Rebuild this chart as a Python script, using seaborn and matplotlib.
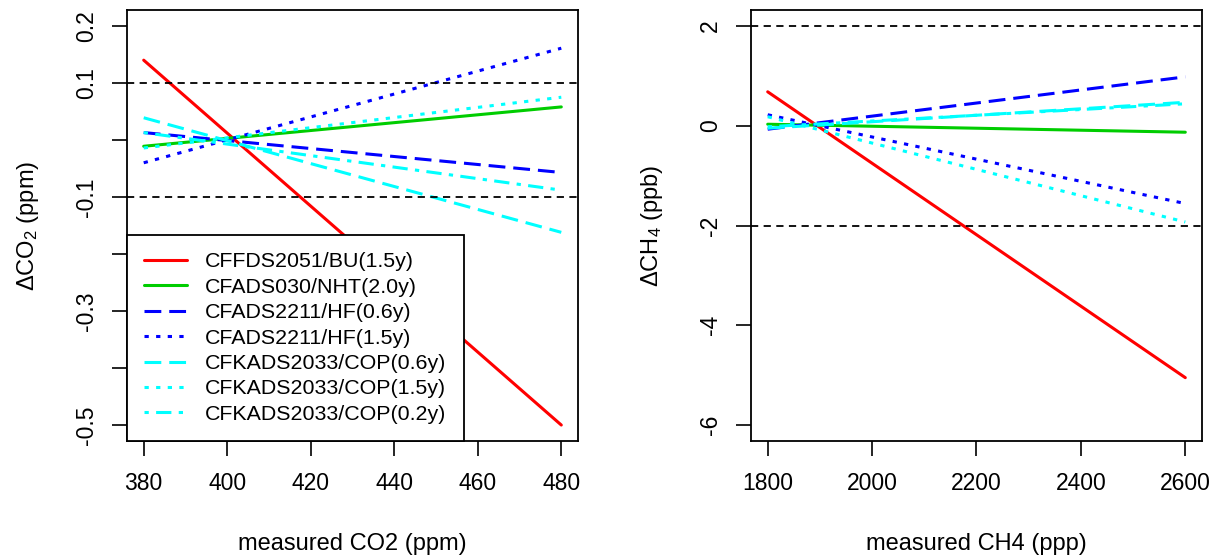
import numpy as np
import pandas as pd
import matplotlib
matplotlib.use("Agg")
import matplotlib.pyplot as plt
import seaborn as sns

# ---- data ----
labels = ["CFFDS2051/BU(1.5y)", "CFADS030/NHT(2.0y)", "CFADS2211/HF(0.6y)",
          "CFADS2211/HF(1.5y)", "CFKADS2033/COP(0.6y)", "CFKADS2033/COP(1.5y)",
          "CFKADS2033/COP(0.2y)"]
colors = ["#FF0000", "#00CD00", "#0000FF", "#0000FF", "#00FFFF", "#00FFFF", "#00FFFF"]
styles = ["solid", "solid", "dashed", "dotted", "dashed", "dotted", "dotdash"]

co2_x = [380, 480]
co2_start = [0.140, -0.011, 0.013, -0.040, 0.039, -0.014, 0.013]
co2_end = [-0.500, 0.058, -0.057, 0.161, -0.162, 0.075, -0.088]

ch4_x = [1800, 2600]
ch4_start = [0.68, 0.03, -0.07, 0.22, -0.05, 0.18, -0.02]
ch4_end = [-5.05, -0.13, 0.98, -1.56, 0.47, -1.93, 0.44]

co2_ticks = [0.2, 0.1, 0.0, -0.1, -0.2, -0.3, -0.4, -0.5]
co2_ticklabels = ["0.2", "0.1", "", "-0.1", "", "-0.3", "", "-0.5"]
co2_xticks = [380, 400, 420, 440, 460, 480]
ch4_ticks = [2, 0, -2, -4, -6]
ch4_xticks = [1800, 2000, 2200, 2400, 2600]
co2_limits = [-0.1, 0.1]
ch4_limits = [-2, 2]

dash_map = {"solid": "-", "dashed": (0, (5.5, 2.6)), "dotted": (0, (1.4, 2.4)),
            "dotdash": (0, (1.4, 2.4, 5, 2.4))}

sns.set_style("white")
plt.rcParams["font.family"] = ["Liberation Sans", "DejaVu Sans"]
plt.rcParams["mathtext.fontset"] = "custom"
plt.rcParams["mathtext.rm"] = "Liberation Sans"
plt.rcParams["mathtext.it"] = "Liberation Sans:italic"
plt.rcParams["text.color"] = "black"
plt.rcParams["axes.labelcolor"] = "black"
plt.rcParams["xtick.color"] = "black"
plt.rcParams["ytick.color"] = "black"

fig = plt.figure(figsize=(12.22, 5.6), dpi=100)
ax1 = fig.add_axes([127 / 1222, 119 / 560, 451 / 1222, 431 / 560])
ax2 = fig.add_axes([751 / 1222, 119 / 560, 451 / 1222, 431 / 560])

TFS = 16.5
LFS = 17
GFS = 15.4


def draw(ax, xs, starts, ends, limits):
    for lab, c, s, y0, y1 in zip(labels, colors, styles, starts, ends):
        df = pd.DataFrame({"x": xs, "y": [y0, y1]})
        sns.lineplot(data=df, x="x", y="y", ax=ax, color=c, linewidth=2.2,
                     linestyle=dash_map[s], label=lab, legend=False)
    for h in limits:
        ax.axhline(h, color="black", linewidth=1.3, linestyle=(0, (4, 3)))


draw(ax1, co2_x, co2_start, co2_end, co2_limits)
draw(ax2, ch4_x, ch4_start, ch4_end, ch4_limits)

ax1.set_xlim(376, 484)
ax1.set_ylim(-0.528, 0.228)
ax1.set_yticks(co2_ticks)
ax1.set_yticklabels(co2_ticklabels)
ax1.set_xticks(co2_xticks)
ax2.set_xlim(1768, 2632)
ax2.set_ylim(-6.32, 2.32)
ax2.set_yticks(ch4_ticks)
ax2.set_yticklabels([str(t) for t in ch4_ticks])
ax2.set_xticks(ch4_xticks)

for ax in (ax1, ax2):
    for sp in ax.spines.values():
        sp.set_visible(True)
        sp.set_color("black")
        sp.set_linewidth(1.3)
    ax.tick_params(axis="both", direction="out", length=11, width=1.2,
                   color="black", labelsize=TFS, left=True, bottom=True)
    ax.tick_params(axis="x", pad=11)
    ax.tick_params(axis="y", pad=10)
    for t in ax.get_yticklabels():
        t.set_rotation(90)
        t.set_va("center")

ax1.set_xlabel("measured CO2 (ppm)", fontsize=LFS)
ax1.set_ylabel(r"$\Delta\mathrm{CO}_2$ (ppm)", fontsize=LFS)
ax2.set_xlabel("measured CH4 (ppp)", fontsize=LFS)
ax2.set_ylabel(r"$\Delta\mathrm{CH}_4$ (ppb)", fontsize=LFS)
for ax in (ax1, ax2):
    ax.xaxis.set_label_coords(0.5, -92 / 431)
    ax.yaxis.set_label_coords(-86 / 451, 0.5)

h, l = ax1.get_legend_handles_labels()
leg = ax1.legend(h, l, loc="lower left", bbox_to_anchor=(0, 0), borderaxespad=0,
                 prop={"size": GFS}, frameon=True, fancybox=False, framealpha=1,
                 edgecolor="black", handlelength=2.0, handletextpad=0.85,
                 labelspacing=0.3, borderpad=0.8)
leg.get_frame().set_linewidth(1.3)

fig.savefig("out.png", dpi=100)
